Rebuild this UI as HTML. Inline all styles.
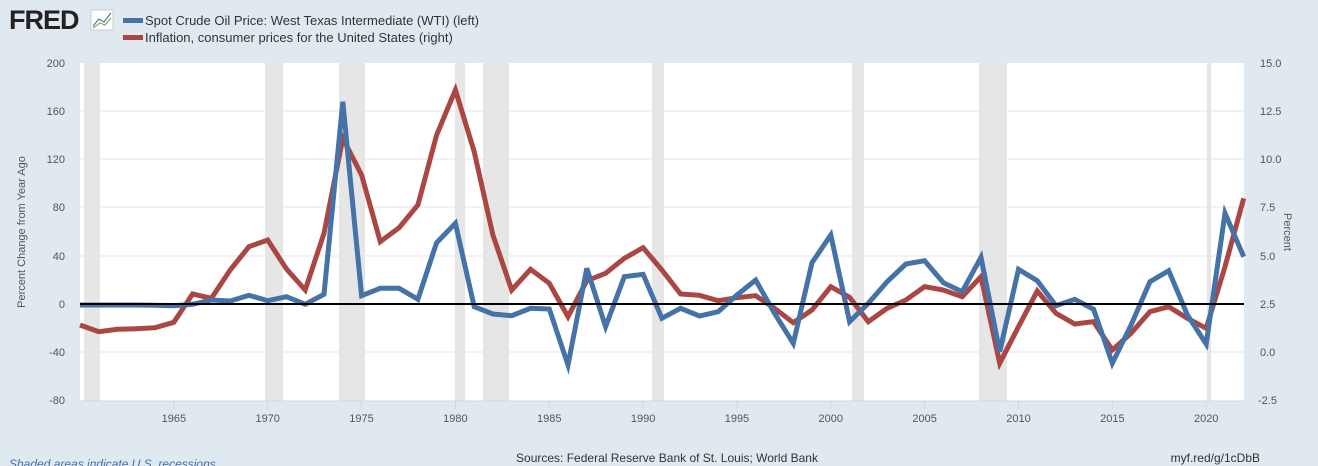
<!DOCTYPE html>
<html><head><meta charset="utf-8"><style>
html,body{margin:0;padding:0;background:#e1e9f0;width:1318px;height:466px;overflow:hidden;font-family:"Liberation Sans",sans-serif}
svg{display:block}
</style></head><body>
<svg id="s" width="1318" height="466" xmlns="http://www.w3.org/2000/svg" font-family="Liberation Sans, sans-serif">
<rect width="1318" height="466" fill="#e1e9f0"/>
<text x="9" y="29" font-size="27" font-weight="bold" fill="#222" letter-spacing="-1">FRED</text>
<rect x="91" y="10" width="22" height="20" fill="#fff" stroke="#ccc"/>
<polyline points="93,26 99,19 104,22 111,13" fill="none" stroke="#4b7ab0" stroke-width="1.2"/>
<polyline points="93,28 100,23 105,25 111,18" fill="none" stroke="#7ab04b" stroke-width="1.2"/>
<rect x="123" y="18" width="20" height="5" fill="#4572a7"/>
<rect x="123" y="35" width="20" height="5" fill="#aa4643"/>
<text x="145" y="25" font-size="13" fill="#333">Spot Crude Oil Price: West Texas Intermediate (WTI) (left)</text>
<text x="145" y="42" font-size="13" fill="#333">Inflation, consumer prices for the United States (right)</text>
<rect x="80" y="63" width="1164" height="338" fill="#fff"/>
<g fill="#e6e6e6">
<rect x="84" y="63" width="16" height="338"/><rect x="265" y="63" width="18" height="338"/>
<rect x="339" y="63" width="26" height="338"/><rect x="455" y="63" width="10" height="338"/>
<rect x="483" y="63" width="26" height="338"/><rect x="652" y="63" width="12" height="338"/>
<rect x="852" y="63" width="12" height="338"/><rect x="979" y="63" width="28" height="338"/>
<rect x="1207" y="63" width="4" height="338"/></g>
<g stroke="#e6e6e6" stroke-width="1">
<line x1="80" x2="1244" y1="111" y2="111"/><line x1="80" x2="1244" y1="159" y2="159"/>
<line x1="80" x2="1244" y1="207" y2="207"/><line x1="80" x2="1244" y1="256" y2="256"/>
<line x1="80" x2="1244" y1="352" y2="352"/></g>
<line x1="80" x2="1244" y1="401" y2="401" stroke="#ccd6eb"/>
<g id="xt" font-size="11" fill="#555" text-anchor="middle"></g>
<g font-size="11" fill="#555" text-anchor="end">
<text x="65" y="67">200</text><text x="65" y="115">160</text><text x="65" y="163">120</text><text x="65" y="211">80</text><text x="65" y="260">40</text><text x="65" y="308">0</text><text x="65" y="356">-40</text><text x="65" y="404">-80</text></g>
<g font-size="11" fill="#555" text-anchor="start">
<text x="1260" y="67">15.0</text><text x="1260" y="115">12.5</text><text x="1260" y="163">10.0</text><text x="1260" y="211">7.5</text><text x="1260" y="260">5.0</text><text x="1260" y="308">2.5</text><text x="1260" y="356">0.0</text><text x="1258" y="404">-2.5</text></g>
<text transform="translate(25,232) rotate(-90)" font-size="11" fill="#555" text-anchor="middle">Percent Change from Year Ago</text>
<text transform="translate(1284,232) rotate(90)" font-size="11" fill="#555" text-anchor="middle">Percent</text>
<polyline id="red" fill="none" stroke="#aa4643" stroke-width="5" stroke-linejoin="miter"/>
<polyline id="blue" fill="none" stroke="#4572a7" stroke-width="5" stroke-linejoin="miter"/>
<line x1="80" x2="1244" y1="304" y2="304" stroke="#000" stroke-width="2"/>
<text x="667" y="462" font-size="12" fill="#333" text-anchor="middle">Sources: Federal Reserve Bank of St. Louis; World Bank</text>
<text x="1260" y="462" font-size="12" fill="#333" text-anchor="end">myf.red/g/1cDbB</text>
<text x="9" y="468" font-size="12" fill="#4572a7" font-style="italic">Shaded areas indicate U.S. recessions</text>
</svg>
<script>
var b1=[735,735,735,735,736,737,733,720,723,706,722,710,733,703,125,707,685,685,718,548,490,740,762,767,745,747,915,625,800,650,643];
var r1=[795,815,808,806,803,787,702,715,630,560,540,627,690,520,235,345,545,503,435,225,90,275,525,690,628,670,770,662,640,595,563];
var b2=[775,745,768,755,705,660,760,850,608,525,785,730,665,612,602,668,695,592,875,628,662,737,718,748,910,795,665,632,765,852,460,590];
var r2=[630,702,706,722,713,707,745,788,750,680,712,785,745,720,680,690,710,650,910,800,693,760,792,785,870,820,755,740,775,805,620,415];
function pts(a,c){var o=[];var all=a.concat(c);for(var i=0;i<all.length;i++){o.push((80+18.77*i).toFixed(1)+","+(60+all[i]/3).toFixed(1));}return o.join(" ");}
document.getElementById("blue").setAttribute("points",pts(b1,b2));
document.getElementById("red").setAttribute("points",pts(r1,r2));
var g=document.getElementById("xt"),h="";
for(var y=1965;y<=2020;y+=5){var x=80+18.77*(y-1960);h+='<line x1="'+x+'" x2="'+x+'" y1="401" y2="409" stroke="#ccd6eb"/><text x="'+x+'" y="422">'+y+'</text>';}
g.innerHTML=h;
</script>
</body></html>
